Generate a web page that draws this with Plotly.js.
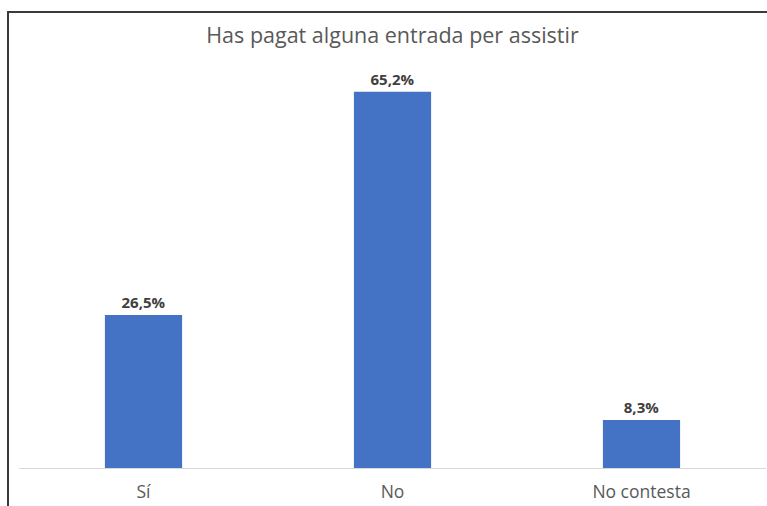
<!DOCTYPE html>
<html>
<head>
<meta charset="utf-8">
<script src="https://cdn.plot.ly/plotly-3.0.1.min.js"></script>
<style>
  html, body { margin: 0; padding: 0; background: #fff; }
  #chart { width: 767px; height: 506px; position: absolute; left: 0; top: 0; }
  #frame { position: absolute; left: 7px; top: 11px; width: 770px; height: 500px;
           border-left: 2px solid #3a3a3a; border-top: 2px solid #3a3a3a; pointer-events: none; }
</style>
</head>
<body>
<div id="chart"></div>
<div id="frame"></div>
<script>
const categories = ["Sí", "No", "No contesta"];
const values = [26.5, 65.2, 8.3];
const valueLabels = ["26,5%", "65,2%", "8,3%"];

const trace = {
  type: "bar",
  x: categories,
  y: values,
  text: valueLabels,
  textposition: "outside",
  cliponaxis: false,
  textfont: { family: "'Open Sans', sans-serif", size: 15, color: "#404040", weight: "bold" },
  marker: { color: "#4472C4" },
  width: 0.31,
  hoverinfo: "x+y"
};

const layout = {
  width: 767,
  height: 506,
  margin: { l: 19, r: 1, t: 64, b: 38 },
  paper_bgcolor: "#ffffff",
  plot_bgcolor: "#ffffff",
  title: {
    text: "Has pagat alguna entrada per assistir",
    x: 0.5, xref: "paper", y: 1, yref: "container", yanchor: "top", pad: { t: 28 },
    font: { family: "'Open Sans', sans-serif", size: 21.5, color: "#595959" }
  },
  xaxis: {
    showline: true, linecolor: "#d9d9d9", linewidth: 1,
    ticks: "", showgrid: false,
    tickfont: { family: "'Open Sans', sans-serif", size: 17.5, color: "#595959" },
    ticklabelstandoff: 8
  },
  yaxis: {
    range: [0, 70], visible: false, showgrid: false, zeroline: false
  },
  showlegend: false,
  bargap: 0.69
};

Plotly.newPlot("chart", [trace], layout, { displayModeBar: false, staticPlot: true });
</script>
</body>
</html>
